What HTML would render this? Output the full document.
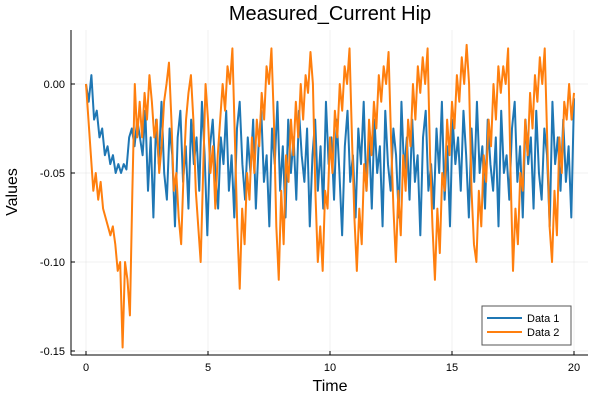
<!DOCTYPE html>
<html><head><meta charset="utf-8"><style>
html,body{margin:0;padding:0;background:#fff;width:600px;height:400px;overflow:hidden}
svg{display:block;font-family:"Liberation Sans","DejaVu Sans",sans-serif}
</style></head><body>
<svg id="chart" width="600" height="400" viewBox="0 0 600 400">
<text x="330" y="20" text-anchor="middle" font-size="20" fill="#000">Measured_Current Hip</text>
<g id="grid"></g>
<g id="xaxis"></g>
<g id="yaxis"></g>
<g id="series"></g>
<text x="330" y="391" text-anchor="middle" font-size="16">Time</text>
<text x="17" y="192" text-anchor="middle" font-size="16" transform="rotate(-90 17 192)">Values</text>
<g>
<rect x="482" y="306" width="89" height="39" fill="#fff" stroke="#555" stroke-width="1"/>
<g><line x1="487" y1="318" x2="522" y2="318" stroke="#1f77b4" stroke-width="2"/><text x="527" y="322" font-size="11">Data 1</text></g>
<g><line x1="487" y1="332" x2="522" y2="332" stroke="#ff7f0e" stroke-width="2"/><text x="527" y="336" font-size="11">Data 2</text></g>
</g>
</svg>
<script>
const xTicks=[0,5,10,15,20];
const yTicks=[0,-0.05,-0.10,-0.15];
const yTickLabels=["0.00","-0.05","-0.10","-0.15"];
const tMax=20;
const data1=[0.0,-0.01,0.005,-0.02,-0.015,-0.03,-0.025,-0.04,-0.035,-0.045,-0.04,-0.05,-0.045,-0.05,-0.045,-0.048,-0.03,-0.025,-0.035,-0.02,-0.03,
-0.04,-0.015,-0.06,-0.03,-0.075,-0.02,-0.045,-0.01,-0.05,-0.065,-0.025,-0.04,-0.08,-0.03,-0.015,-0.055,-0.035,-0.07,-0.02,-0.045,
-0.03,-0.06,-0.01,-0.04,-0.085,-0.035,-0.02,-0.05,-0.07,-0.03,-0.045,-0.015,-0.06,-0.04,-0.075,-0.025,-0.01,-0.045,-0.065,-0.03,
-0.05,-0.02,-0.07,-0.035,-0.015,-0.055,-0.04,-0.08,-0.025,-0.045,-0.01,-0.06,-0.035,-0.075,-0.02,-0.05,-0.03,-0.065,-0.015,-0.04,
-0.055,-0.025,-0.08,-0.04,-0.02,-0.06,-0.035,-0.07,-0.01,-0.045,-0.03,-0.065,-0.02,-0.05,-0.085,-0.035,-0.015,-0.055,-0.04,-0.075,
-0.025,-0.045,-0.01,-0.06,-0.03,-0.07,-0.02,-0.05,-0.035,-0.08,-0.015,-0.045,-0.06,-0.025,-0.04,-0.075,-0.01,-0.05,-0.03,-0.065,
-0.02,-0.055,-0.04,-0.085,-0.03,-0.015,-0.06,-0.045,-0.07,-0.025,-0.05,-0.01,-0.065,-0.035,-0.08,-0.02,-0.045,-0.03,-0.06,-0.015,
-0.04,-0.075,-0.025,-0.055,-0.01,-0.05,-0.035,-0.07,-0.02,-0.045,-0.06,-0.03,-0.08,-0.015,-0.05,-0.04,-0.065,-0.025,-0.01,-0.055,
-0.035,-0.075,-0.02,-0.045,-0.03,-0.07,-0.015,-0.05,-0.065,-0.025,-0.04,-0.08,-0.01,-0.045,-0.03,-0.06,-0.02,-0.055,-0.035,-0.075,-0.008];
const data2=[0.0,-0.02,-0.04,-0.06,-0.05,-0.065,-0.055,-0.07,-0.075,-0.08,-0.085,-0.08,-0.09,-0.105,-0.10,-0.148,-0.10,-0.11,-0.13,-0.06,0.0,
-0.03,-0.01,-0.03,-0.005,-0.02,0.005,-0.01,-0.03,-0.02,-0.05,-0.035,-0.01,0.0,0.012,-0.02,-0.06,-0.05,-0.075,-0.09,
-0.05,-0.02,-0.005,0.005,-0.02,-0.06,-0.08,-0.1,-0.05,0.0,-0.02,-0.05,-0.035,-0.07,-0.04,-0.02,0.0,-0.015,0.01,0.0,0.02,-0.03,-0.08,-0.115,
-0.07,-0.09,-0.05,-0.065,-0.03,-0.05,-0.02,-0.035,-0.005,-0.02,0.01,0.0,0.02,-0.02,-0.08,-0.11,
-0.06,-0.09,-0.04,-0.055,-0.02,-0.04,-0.01,-0.03,0.0,-0.02,0.005,-0.005,0.018,0.0,-0.06,-0.10,
-0.08,-0.105,-0.06,-0.07,-0.03,-0.05,-0.015,-0.03,0.0,-0.015,0.01,0.0,0.02,-0.03,-0.075,-0.105,
-0.07,-0.09,-0.045,-0.06,-0.02,-0.04,-0.01,-0.025,0.005,-0.01,0.01,0.0,0.018,-0.03,-0.07,-0.10,
-0.06,-0.085,-0.04,-0.06,-0.02,-0.035,0.0,-0.02,0.01,-0.005,0.015,0.0,0.02,-0.04,-0.08,-0.11,
-0.07,-0.095,-0.05,-0.06,-0.02,-0.04,-0.01,-0.025,0.005,-0.01,0.015,0.0,0.022,0.0,-0.06,-0.09,-0.10,
-0.06,-0.08,-0.04,-0.055,-0.02,-0.035,0.0,-0.02,0.01,-0.005,0.01,0.0,0.02,-0.05,-0.105,
-0.07,-0.09,-0.05,-0.06,-0.02,-0.04,-0.005,-0.025,0.005,-0.01,0.015,0.0,0.02,-0.03,-0.08,-0.10,
-0.06,-0.085,-0.03,-0.05,-0.01,-0.02,0.0,-0.02,-0.005];
const L=71,R=588,T=30,B=355;
const xs=v=>86+v*(574-86)/20;
const ys=v=>84-v*(351-84)/0.15;
const NS='http://www.w3.org/2000/svg';
function mk(tag,attrs,parent){const e=document.createElementNS(NS,tag);for(const k in attrs)e.setAttribute(k,attrs[k]);parent.appendChild(e);return e;}
const grid=document.getElementById('grid'),xa=document.getElementById('xaxis'),ya=document.getElementById('yaxis'),sg=document.getElementById('series');
xTicks.forEach(t=>{
 const g=mk('line',{x1:xs(t),x2:xs(t),y1:T,y2:B,stroke:'#000','stroke-opacity':0.1,'stroke-width':0.5},grid);
 
 
 mk('line',{x1:xs(t),x2:xs(t),y1:B,y2:B-4,stroke:'#000','stroke-width':1},xa);
 const tx=mk('text',{x:xs(t),y:B+16,'text-anchor':'middle','font-size':11},xa);
 tx.textContent=String(t);
 
 
});
yTicks.forEach((t,i)=>{
 const g=mk('line',{x1:L,x2:R,y1:ys(t),y2:ys(t),stroke:'#000','stroke-opacity':0.1,'stroke-width':0.5},grid);
 
 
 mk('line',{x1:L,x2:L+4,y1:ys(t),y2:ys(t),stroke:'#000','stroke-width':1},ya);
 const tx=mk('text',{x:L-6,y:ys(t)+4,'text-anchor':'end','font-size':11},ya);
 tx.textContent=yTickLabels[i];
 
 
});
mk('line',{x1:L,x2:R,y1:B,y2:B,stroke:'#000','stroke-width':1},xa);
mk('line',{x1:L,x2:L,y1:T,y2:B,stroke:'#000','stroke-width':1},ya);
function draw(arr,color,name){
 const n=arr.length;
 const pts=arr.map((v,i)=>xs(i*tMax/(n-1)).toFixed(2)+','+ys(v).toFixed(2)).join(' ');
 const p=mk('polyline',{points:pts,fill:'none',stroke:color,'stroke-width':2,'stroke-linejoin':'round'},sg);
 
 
}
draw(data1,'#1f77b4','series-data-1');
draw(data2,'#ff7f0e','series-data-2');
</script>
</body></html>
